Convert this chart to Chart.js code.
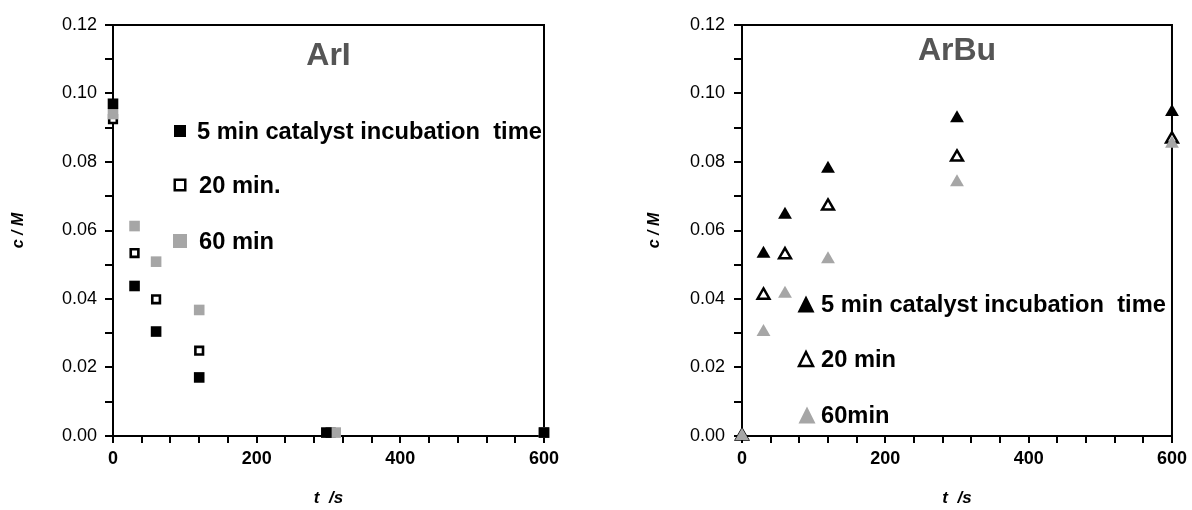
<!DOCTYPE html>
<html>
<head>
<meta charset="utf-8">
<script src="https://cdn.jsdelivr.net/npm/chart.js@4"></script>
<style>
  body { margin: 0; background: #fff; width: 1192px; height: 510px; overflow: hidden; position: relative; }
  .caja { position: absolute; top: 0; width: 596px; height: 510px; }
</style>
</head>
<body>
<div class="caja" style="left:0"><canvas id="graficoArI"></canvas></div>
<div class="caja" style="left:596px"><canvas id="graficoArBu"></canvas></div>
<script>
// Datos ArI (c / M frente a t / s)
var tArI5 = [0, 30, 60, 120, 297, 600];
var arI5 = [0.097, 0.0438, 0.0305, 0.0171, 0.001, 0.001];
var tArI20 = [0, 30, 60, 120, 303, 600];
var arI20 = [0.0925, 0.0534, 0.0399, 0.0249, 0.001, 0.001];
var tArI60 = [0, 30, 60, 120, 310, 600];
var arI60 = [0.094, 0.0613, 0.0509, 0.0368, 0.001, 0.001];

// Datos ArBu
var tArBu = [0, 30, 60, 120, 300, 600];
var arBu5 = [0, 0.0532, 0.0646, 0.078, 0.0928, 0.0946];
var arBu20 = [0, 0.0411, 0.0529, 0.0671, 0.0814, 0.0867];
var arBu60 = [0, 0.0304, 0.0415, 0.0516, 0.0741, 0.0853];

var etiquetasArI = ['5 min catalyst incubation  time', '20 min.', '60 min'];
var etiquetasArBu = ['5 min catalyst incubation  time', '20 min', '60min'];

var gris = '#a6a6a6';
var fuente = 'Liberation Sans, Arial, sans-serif';

function puntos(xs, ys) {
    return xs.map(function (x, i) { return { x: x, y: ys[i] }; });
}

// marco, titulo interior y leyenda dibujada dentro del area
var decoracion = {
    id: 'decoracion',
    beforeDatasetsDraw: function (chart) {
        var a = chart.chartArea, ctx = chart.ctx;
        ctx.save();
        ctx.strokeStyle = '#000';
        ctx.lineWidth = 2;
        ctx.strokeRect(a.left, a.top, a.right - a.left, a.bottom - a.top);
        ctx.restore();
    },
    afterDraw: function (chart, args, opts) {
        var a = chart.chartArea, ctx = chart.ctx;
        ctx.save();
        ctx.fillStyle = '#555';
        ctx.font = 'bold 32px ' + fuente;
        ctx.textAlign = 'center';
        ctx.textBaseline = 'middle';
        ctx.fillText(opts.titulo, (a.left + a.right) / 2, a.top + opts.tituloY);

        ctx.textAlign = 'left';
        ctx.font = 'bold 23.7px ' + fuente;
        opts.items.forEach(function (it) {
            var x = it.mx, y = it.y, s = it.tam;
            ctx.fillStyle = it.relleno;
            ctx.strokeStyle = it.borde;
            ctx.lineWidth = 2.5;
            ctx.beginPath();
            if (it.forma === 'rect') {
                ctx.rect(x - s / 2, y - s / 2, s, s);
            } else {
                ctx.moveTo(x, y - s / 2);
                ctx.lineTo(x + s / 2, y + s / 2);
                ctx.lineTo(x - s / 2, y + s / 2);
                ctx.closePath();
            }
            ctx.fill();
            if (it.contorno) ctx.stroke();
            ctx.fillStyle = '#000';
            ctx.fillText(it.texto, it.tx, y + 1);
        });
        ctx.restore();
    }
};

function escalas(anchoY, padY, padTituloY) {
    return {
        x: {
            type: 'linear', min: 0, max: 600,
            ticks: {
                stepSize: 40, autoSkip: false, maxRotation: 0, padding: 5, color: '#000',
                font: { family: fuente, size: 18, weight: 'bold' },
                callback: function (v) { return v % 200 === 0 ? String(v) : ''; }
            },
            grid: { drawOnChartArea: false, tickLength: 7, color: '#000', lineWidth: 2 },
            border: { color: '#000', width: 2 },
            title: {
                display: true, text: 't  /s', color: '#000',
                font: { family: fuente, size: 17, weight: 'bold', style: 'italic' },
                padding: { top: 0, bottom: 1 }
            },
            afterFit: function (s) { s.height = 74; }
        },
        y: {
            type: 'linear', min: 0, max: 0.12,
            ticks: {
                stepSize: 0.01, autoSkip: false, padding: padY, color: '#000',
                font: { family: fuente, size: 18 },
                callback: function (v) { return Math.round(v * 100) % 2 === 0 ? v.toFixed(2) : ''; }
            },
            grid: { drawOnChartArea: false, tickLength: 8, color: '#000', lineWidth: 2 },
            border: { color: '#000', width: 2 },
            title: {
                display: true, text: 'c / M', color: '#000',
                font: { family: fuente, size: 16, weight: 'bold', style: 'italic' },
                padding: { top: padTituloY, bottom: 0 }
            },
            afterFit: function (s) { s.width = anchoY; }
        }
    };
}

// Grafico ArI
new Chart(document.getElementById('graficoArI').getContext('2d'), {
    type: 'scatter',
    data: {
        datasets: [
            { label: etiquetasArI[0], data: puntos(tArI5, arI5), pointStyle: 'rect', pointRadius: 7.5, borderWidth: 0, backgroundColor: '#000', borderColor: '#000', clip: false },
            { label: etiquetasArI[2], data: puntos(tArI60, arI60), pointStyle: 'rect', pointRadius: 7.5, borderWidth: 0, backgroundColor: gris, borderColor: gris, clip: false },
            { label: etiquetasArI[1], data: puntos(tArI20, arI20), pointStyle: 'rect', pointRadius: 5.4, borderWidth: 2.6, backgroundColor: '#fff', borderColor: '#000', clip: false }
        ]
    },
    options: {
        responsive: true,
        maintainAspectRatio: false,
        animation: false,
        layout: { padding: { top: 25, right: 52, left: 0, bottom: 0 } },
        scales: escalas(113, 8, 9),
        plugins: {
            legend: { display: false },
            tooltip: { enabled: false },
            decoracion: {
                titulo: 'ArI', tituloY: 31,
                items: [
                    { texto: etiquetasArI[0], forma: 'rect', relleno: '#000', borde: '#000', contorno: false, tam: 12, mx: 180, tx: 197, y: 131 },
                    { texto: etiquetasArI[1], forma: 'rect', relleno: '#fff', borde: '#000', contorno: true, tam: 10.5, mx: 180, tx: 199, y: 185 },
                    { texto: etiquetasArI[2], forma: 'rect', relleno: gris, borde: gris, contorno: false, tam: 14, mx: 180, tx: 199, y: 241 }
                ]
            }
        }
    },
    plugins: [decoracion]
});

// Grafico ArBu
new Chart(document.getElementById('graficoArBu').getContext('2d'), {
    type: 'scatter',
    data: {
        datasets: [
            { label: etiquetasArBu[2], data: puntos(tArBu, arBu60), pointStyle: 'triangle', pointRadius: 8, borderWidth: 0, backgroundColor: gris, borderColor: gris, clip: false },
            { label: etiquetasArBu[0], data: puntos(tArBu, arBu5), pointStyle: 'triangle', pointRadius: 8, borderWidth: 0, backgroundColor: '#000', borderColor: '#000', clip: false },
            { label: etiquetasArBu[1], data: puntos(tArBu, arBu20), pointStyle: 'triangle', pointRadius: 6.8, borderWidth: 2.5, backgroundColor: '#fff', borderColor: '#000', clip: false }
        ]
    },
    options: {
        responsive: true,
        maintainAspectRatio: false,
        animation: false,
        layout: { padding: { top: 25, right: 16, left: 0, bottom: 0 } },
        scales: escalas(146, 9, 49),
        plugins: {
            legend: { display: false },
            tooltip: { enabled: false },
            decoracion: {
                titulo: 'ArBu', tituloY: 26,
                items: [
                    { texto: etiquetasArBu[0], forma: 'tri', relleno: '#000', borde: '#000', contorno: false, tam: 17, mx: 210, tx: 225, y: 304 },
                    { texto: etiquetasArBu[1], forma: 'tri', relleno: '#fff', borde: '#000', contorno: true, tam: 14, mx: 210, tx: 225, y: 359 },
                    { texto: etiquetasArBu[2], forma: 'tri', relleno: gris, borde: gris, contorno: false, tam: 17, mx: 211, tx: 225, y: 415 }
                ]
            }
        }
    },
    plugins: [decoracion]
});
</script>
</body>
</html>
